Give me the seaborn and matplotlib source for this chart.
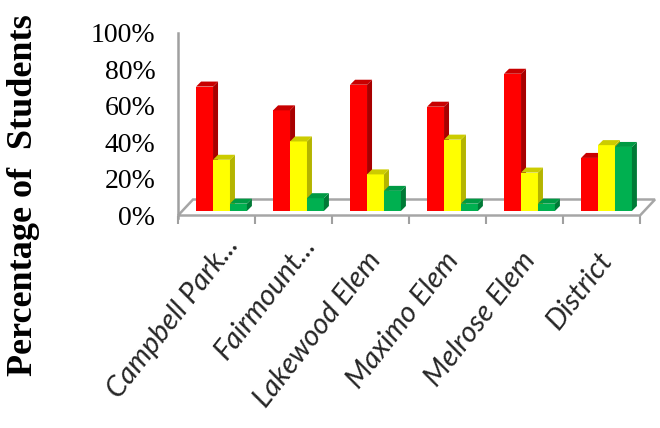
import numpy as np
import pandas as pd
import matplotlib
matplotlib.use("Agg")
import matplotlib.pyplot as plt
import seaborn as sns
from matplotlib.patches import Polygon
from matplotlib.transforms import offset_copy, ScaledTranslation
from matplotlib.ticker import FixedLocator, FuncFormatter

# ---- data -------------------------------------------------------------
schools = ["Campbell Park...", "Fairmount...", "Lakewood Elem",
           "Maximo Elem", "Melrose Elem", "District"]
levels = ["Level 1", "Level 2", "Level 3"]
level1_pct = [68, 55, 69, 57, 75, 29]
level2_pct = [28, 38, 20, 39, 21, 36]
level3_pct = [4, 7, 11, 4, 4, 35]
y_ticks = [0, 20, 40, 60, 80, 100]

front_colors = ["#FF0000", "#FFFF00", "#00B050"]
side_colors = ["#A80000", "#B4B400", "#007A36"]
top_colors = ["#C80000", "#CCCC00", "#009A44"]

df = pd.DataFrame({
    "School": schools * 3,
    "Level": np.repeat(levels, len(schools)),
    "Pct": level1_pct + level2_pct + level3_pct,
})

sns.set_theme(style="white")

W, H = 660, 428
fig = plt.figure(figsize=(W / 100, H / 100), dpi=100)
ax_left, ax_right = 178, 640          # pixel columns of the front floor edge
ax_bottom, ax_top = 215.5, 32.5       # pixel rows of 0% and 100%
ax = fig.add_axes([ax_left / W, (H - ax_bottom) / H,
                   (ax_right - ax_left) / W, (ax_bottom - ax_top) / H])

sns.barplot(data=df, x="School", y="Pct", hue="Level", palette=front_colors,
            width=0.66, saturation=1, legend=False, ax=ax,
            edgecolor="none", linewidth=0, err_kws={"linewidth": 0})
ax.set_xlim(-0.5, len(schools) - 0.5)
ax.set_ylim(0, 100)

# pixel -> data scale factors
px_x = (len(schools)) / (ax_right - ax_left)
px_y = 100 / (ax_bottom - ax_top)

# oblique depth: bars sit a few pixels behind the front plane
bar_shift = offset_copy(ax.transData, fig=fig, x=5, y=4.5, units="dots")
depth_x, depth_y = 5 * px_x, 5 * px_y

for k, cont in enumerate(ax.containers):
    for bar in cont:
        x0, w, h = bar.get_x(), bar.get_width(), bar.get_height()
        bar.set_transform(bar_shift)
        bar.set_zorder(3 + k * 0.1)
        bar.set_clip_on(False)
        side = Polygon([(x0 + w, 0), (x0 + w + depth_x, depth_y),
                        (x0 + w + depth_x, h + depth_y), (x0 + w, h)],
                       closed=True, facecolor=side_colors[k], edgecolor="none",
                       transform=bar_shift, zorder=3 + k * 0.1, clip_on=False)
        top = Polygon([(x0, h), (x0 + w, h), (x0 + w + depth_x, h + depth_y),
                       (x0 + depth_x, h + depth_y)],
                      closed=True, facecolor=top_colors[k], edgecolor="none",
                      transform=bar_shift, zorder=3 + k * 0.1, clip_on=False)
        ax.add_patch(side)
        ax.add_patch(top)

# floor plate
fx0, fx1 = -0.5, len(schools) - 0.5
floor_dx, floor_dy = 15 * px_x, 16 * px_y
floor = Polygon([(fx0, 0), (fx1, 0), (fx1 + floor_dx, floor_dy), (fx0 + floor_dx, floor_dy)],
                closed=True, facecolor="white", edgecolor="#A6A6A6", linewidth=1.8,
                zorder=1, clip_on=False)
ax.add_patch(floor)

# axes styling
grey = "#A0A0A0"
for s in ["top", "right", "bottom"]:
    ax.spines[s].set_visible(False)
ax.spines["left"].set_color(grey)
ax.spines["left"].set_linewidth(1.8)
ax.spines["left"].set_bounds(-1.5, 100)

ax.set_xlabel("")
ax.set_ylabel("")

ax.yaxis.set_major_locator(FixedLocator(y_ticks))
ax.yaxis.set_major_formatter(FuncFormatter(lambda v, p: f"{int(v)}%"))
ax.tick_params(axis="y", which="major", direction="out", length=4.3, width=1.5,
               color=grey, pad=12, labelsize=20, labelcolor="black")
for lab in ax.get_yticklabels():
    lab.set_fontfamily("Liberation Serif")

ax.set_xticks(range(len(schools)))
ax.set_xticks(np.arange(-0.5, len(schools), 1.0), minor=True)
ax.tick_params(axis="x", which="minor", direction="out", length=6, width=1.5,
               color=grey, bottom=True)
ax.tick_params(axis="x", which="major", length=0, pad=0)
rot = 52
ax.set_xticklabels(schools, rotation=rot, ha="right", va="baseline",
                   rotation_mode="anchor", fontsize=21, fontstyle="italic",
                   fontfamily="Lato")

ang = np.deg2rad(rot)
for lab in ax.get_xticklabels():
    dx, dy = 12, -45
    if lab.get_text().endswith("..."):
        dx += 19 * np.cos(ang)
        dy += 19 * np.sin(ang)
    lab.set_transform(lab.get_transform() +
                      ScaledTranslation(dx / 100, dy / 100, fig.dpi_scale_trans))

fig.text(24 / W, 1 - 195 / H, "Percentage of  Students", rotation=90,
         ha="center", va="center", fontsize=26, fontweight="bold",
         fontfamily="Liberation Serif", color="black")

fig.savefig("out.png", dpi=100, facecolor="white")
